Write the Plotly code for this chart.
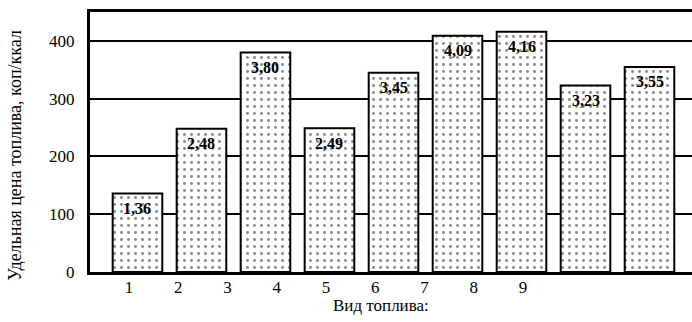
import plotly.graph_objects as go

# Fuel types (index along the axis) and specific fuel price, rub per 100 kcal-units
fuel_types = ["1", "2", "3", "4", "5", "6", "7", "8", "9"]
price_rub = [1.36, 2.48, 3.80, 2.49, 3.45, 4.09, 4.16, 3.23, 3.55]
y_ticks = [0, 100, 200, 300, 400]

price_kop = [round(p * 100) for p in price_rub]
labels = [f"{p:.2f}".replace(".", ",") for p in price_rub]
bar_pos = list(range(len(price_rub)))

SERIF = "Liberation Serif, Times New Roman, serif"

fig = go.Figure()

fig.add_trace(go.Bar(
    x=bar_pos,
    y=price_kop,
    width=0.775,
    marker=dict(
        color="white",
        line=dict(color="black", width=2),
        pattern=dict(shape=".", fgcolor="#111", bgcolor="white", size=7, solidity=0.14),
    ),
    hoverinfo="skip",
    showlegend=False,
))

# value labels just below the top of each bar
for xi, yi, lab in zip(bar_pos, price_kop, labels):
    fig.add_annotation(
        x=xi, y=yi, text=f"<b>{lab}</b>", showarrow=False,
        xref="x", yref="y", yanchor="middle", yshift=-15,
        font=dict(family=SERIF, size=16, color="black"),
    )

# secondary axis carrying the fuel-type numbers
fig.add_trace(go.Scatter(x=[1], y=[0], xaxis="x2", mode="markers",
                         marker=dict(opacity=0), hoverinfo="skip", showlegend=False))

fig.update_layout(
    width=692, height=322,
    margin=dict(l=90, r=0, t=12, b=50),
    paper_bgcolor="white", plot_bgcolor="white",
    font=dict(family=SERIF, size=17, color="black"),
    xaxis=dict(
        range=[-0.742, 8.664], showticklabels=False, showgrid=False, zeroline=False,
        showline=True, linecolor="black", linewidth=3, mirror=True, ticks="",
    ),
    xaxis2=dict(
        overlaying="x", side="bottom", range=[0.208, 12.43],
        tickmode="array", tickvals=[int(t) for t in fuel_types], ticktext=fuel_types,
        showgrid=False, zeroline=False, showline=False, ticks="",
        ticklabelstandoff=3,
        tickfont=dict(family=SERIF, size=17, color="black"),
    ),
    yaxis=dict(
        range=[0, 450], tickvals=y_ticks, showgrid=True, gridcolor="black", gridwidth=2,
        zeroline=False, showline=True, linecolor="black", linewidth=3, ticks="",
        ticklabelstandoff=9, tickfont=dict(family=SERIF, size=17, color="black"),
    ),
)

fig.add_annotation(
    text="Удельная цена топлива, коп/ккал", textangle=-90, showarrow=False,
    xref="paper", yref="paper", x=-0.125, y=0.45, xanchor="center", yanchor="middle",
    font=dict(family=SERIF, size=18, color="black"),
)
fig.add_annotation(
    text="Вид топлива:", showarrow=False,
    xref="paper", yref="paper", x=(381 - 90) / 602, y=-0.127, xanchor="center", yanchor="middle",
    font=dict(family=SERIF, size=17, color="black"),
)

fig.write_html("out.html")
